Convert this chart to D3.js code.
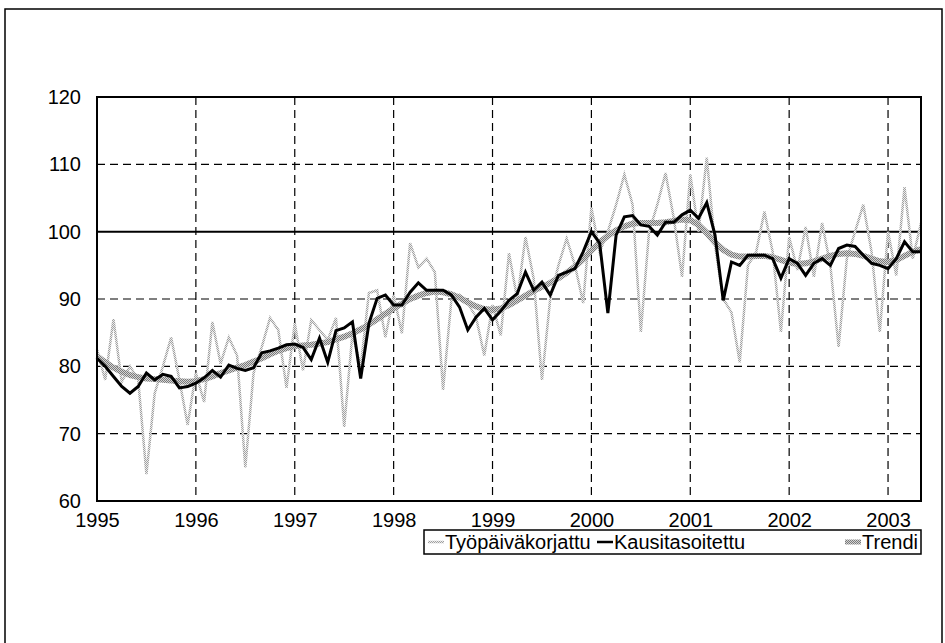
<!DOCTYPE html>
<html><head><meta charset="utf-8">
<script src="https://cdn.jsdelivr.net/npm/d3@7"></script>
<style>body{margin:0;background:#fff}svg{display:block}text{font-family:"Liberation Sans",Arial,sans-serif}</style>
</head><body><svg id="c" width="945" height="643"></svg>
<script>
// Monthly data, Jan 1995 – May 2003
const startYear = 1995;
const yearLabels = ["1995","1996","1997","1998","1999","2000","2001","2002","2003"];
const yTicks = [60,70,80,90,100,110,120];
const seriesNames = ["Työpäiväkorjattu","Kausitasoitettu","Trendi"];
const tyopaiva = [82.5,78,87,77.7,80,78,64,76,80,84.3,78,71.3,
  79,74.7,86.6,80.4,84.3,81.6,65,79,82.9,87.2,85.4,76.8,
  86.4,79.4,86.9,85.4,83.9,87.2,71,84.9,79.9,90.9,91.3,84.3,
  90.6,84.9,98.3,94.7,96,94,76.5,89.8,90.6,89.4,87.3,81.6,
  89.1,84.6,96.8,90,99.2,93,78,90,95,99,95,89.4,
  103.6,97,100,104,108.5,104,85.1,100,104,108.7,102,93.3,
  108.5,100,111,98,90,88,80.6,95,97,103,97,85.1,
  99.2,94.3,100.7,93.3,101.3,95,82.9,96,100,104,97,85.1,
  100,93.5,106.6,96,101.3];
const kausi = [81.2,80,78.5,77,76,77,79,78,78.8,78.5,76.8,77,
  77.5,78.3,79.4,78.4,80.2,79.7,79.4,79.8,82,82.3,82.7,83.2,
  83.3,82.8,81,84.2,80.6,85.3,85.7,86.6,78.2,86.4,90.1,90.6,
  89.1,89.1,91,92.4,91.3,91.3,91.3,90.6,88.8,85.4,87.3,88.6,
  86.9,88.2,89.8,90.8,94,91.3,92.5,90.6,93.5,94,94.5,97,
  100,98.3,87.9,99.5,102.2,102.4,101,100.8,99.5,101.4,101.4,102.5,
  103.2,102,104.3,99.5,89.8,95.5,95,96.5,96.5,96.5,96,93.1,
  96,95.3,93.5,95.3,96,95,97.5,98,97.8,96.5,95.3,95,
  94.5,96,98.5,97,97];
const trendi = [81.5,80.6,79.8,79.2,78.7,78.4,78.2,78.1,78,77.9,77.8,77.7,
  77.8,78.1,78.5,79,79.4,79.8,80.2,80.7,81.2,81.8,82.3,82.7,
  83,83.1,83.2,83.4,83.6,84,84.4,84.9,85.5,86.2,87,87.8,
  88.6,89.3,90,90.5,90.9,91.1,91,90.7,90.2,89.5,88.9,88.5,
  88.4,88.6,89.1,89.8,90.5,91.2,91.8,92.4,93.1,93.9,94.8,95.9,
  97.2,98.4,99.4,100.2,100.8,101.2,101.3,101.3,101.3,101.4,101.6,101.8,
  101.7,101,99.8,98.4,97.3,96.6,96.3,96.3,96.4,96.4,96.2,95.8,
  95.4,95.2,95.3,95.6,96,96.4,96.7,96.8,96.7,96.4,96,95.6,
  95.5,95.8,96.4,97,97.4];

const svg = d3.select("#c");
const L=97,R=921,T=97,B=501;
const x = d3.scaleLinear().domain([0,tyopaiva.length-1]).range([L,R]);
const y = d3.scaleLinear().domain([60,120]).range([B,T]);
const FS = 20;

const defs = svg.append("defs");
const p1 = defs.append("pattern").attr("id","dith").attr("width",2).attr("height",2).attr("patternUnits","userSpaceOnUse");
p1.append("rect").attr("width",2).attr("height",2).attr("fill","#d4d4d4");
p1.append("rect").attr("width",1).attr("height",1).attr("fill","#7a7a7a");
p1.append("rect").attr("x",1).attr("y",1).attr("width",1).attr("height",1).attr("fill","#7a7a7a");
const p2 = defs.append("pattern").attr("id","dith2").attr("width",2).attr("height",2).attr("patternUnits","userSpaceOnUse");
p2.append("rect").attr("width",2).attr("height",2).attr("fill","#ececec");
p2.append("rect").attr("width",1).attr("height",1).attr("fill","#a0a0a0");
p2.append("rect").attr("x",1).attr("y",1).attr("width",1).attr("height",1).attr("fill","#a0a0a0");

// outer frame
svg.append("rect").attr("x",5).attr("y",9).attr("width",937).attr("height",660)
  .attr("fill","none").attr("stroke","#000").attr("stroke-width",1.5);

// grid
const yearIdx = yearLabels.map((d,i)=>i*12);
svg.append("g").selectAll("line").data(yTicks.filter(v=>v!==60&&v!==120&&v!==100)).join("line")
  .attr("x1",L).attr("x2",R).attr("y1",d=>y(d)).attr("y2",d=>y(d))
  .attr("stroke","#000").attr("stroke-width",1.2).attr("stroke-dasharray","8,5");
svg.append("g").selectAll("line").data(yearIdx.slice(1)).join("line")
  .attr("x1",d=>x(d)).attr("x2",d=>x(d)).attr("y1",T).attr("y2",B)
  .attr("stroke","#000").attr("stroke-width",1.2).attr("stroke-dasharray","8,5");
svg.append("line").attr("x1",L).attr("x2",R).attr("y1",y(100)).attr("y2",y(100))
  .attr("stroke","#000").attr("stroke-width",2);

// series
const line = d3.line().x((d,i)=>x(i)).y(d=>y(d));
svg.append("path").datum(tyopaiva).attr("d",line).attr("fill","none")
  .attr("stroke","url(#dith2)").attr("stroke-width",2.5).attr("stroke-linejoin","miter");
svg.append("path").datum(trendi).attr("d",line).attr("fill","none")
  .attr("stroke","url(#dith)").attr("stroke-width",6).attr("stroke-linejoin","round");
svg.append("path").datum(kausi).attr("d",line).attr("fill","none")
  .attr("stroke","#000").attr("stroke-width",3).attr("stroke-linejoin","miter");

// plot border
svg.append("rect").attr("x",L).attr("y",T).attr("width",R-L).attr("height",B-T)
  .attr("fill","none").attr("stroke","#000").attr("stroke-width",2);

// axes
const yAxis = d3.axisLeft(y).tickValues(yTicks).tickSize(0).tickPadding(16);
const gy = svg.append("g").attr("transform",`translate(${L},0)`).call(yAxis);
gy.select(".domain").remove();
gy.selectAll("text").attr("font-size",FS).attr("fill","#000").style("font-family","Liberation Sans, Arial");
const xAxis = d3.axisBottom(x).tickValues(yearIdx).tickFormat((d,i)=>yearLabels[i]).tickSize(0).tickPadding(12);
const gx = svg.append("g").attr("transform",`translate(0,${B})`).call(xAxis);
gx.select(".domain").remove();
gx.selectAll("text").attr("font-size",FS).attr("fill","#000").style("font-family","Liberation Sans, Arial");

// legend
const lg = svg.append("g");
lg.append("rect").attr("x",424).attr("y",530).attr("width",497).attr("height",24)
  .attr("fill","#fff").attr("stroke","#000").attr("stroke-width",1.5);
const items = [
  {name:seriesNames[0], x:428, stroke:"url(#dith2)", w:2.5},
  {name:seriesNames[1], x:597, stroke:"#000", w:2.5},
  {name:seriesNames[2], x:845, stroke:"url(#dith)", w:5}
];
items.forEach(it=>{
  lg.append("line").attr("x1",it.x).attr("x2",it.x+16).attr("y1",542).attr("y2",542)
    .attr("stroke",it.stroke).attr("stroke-width",it.w);
  lg.append("text").attr("x",it.x+17).attr("y",549).attr("font-size",FS).text(it.name);
});
</script></body></html>
